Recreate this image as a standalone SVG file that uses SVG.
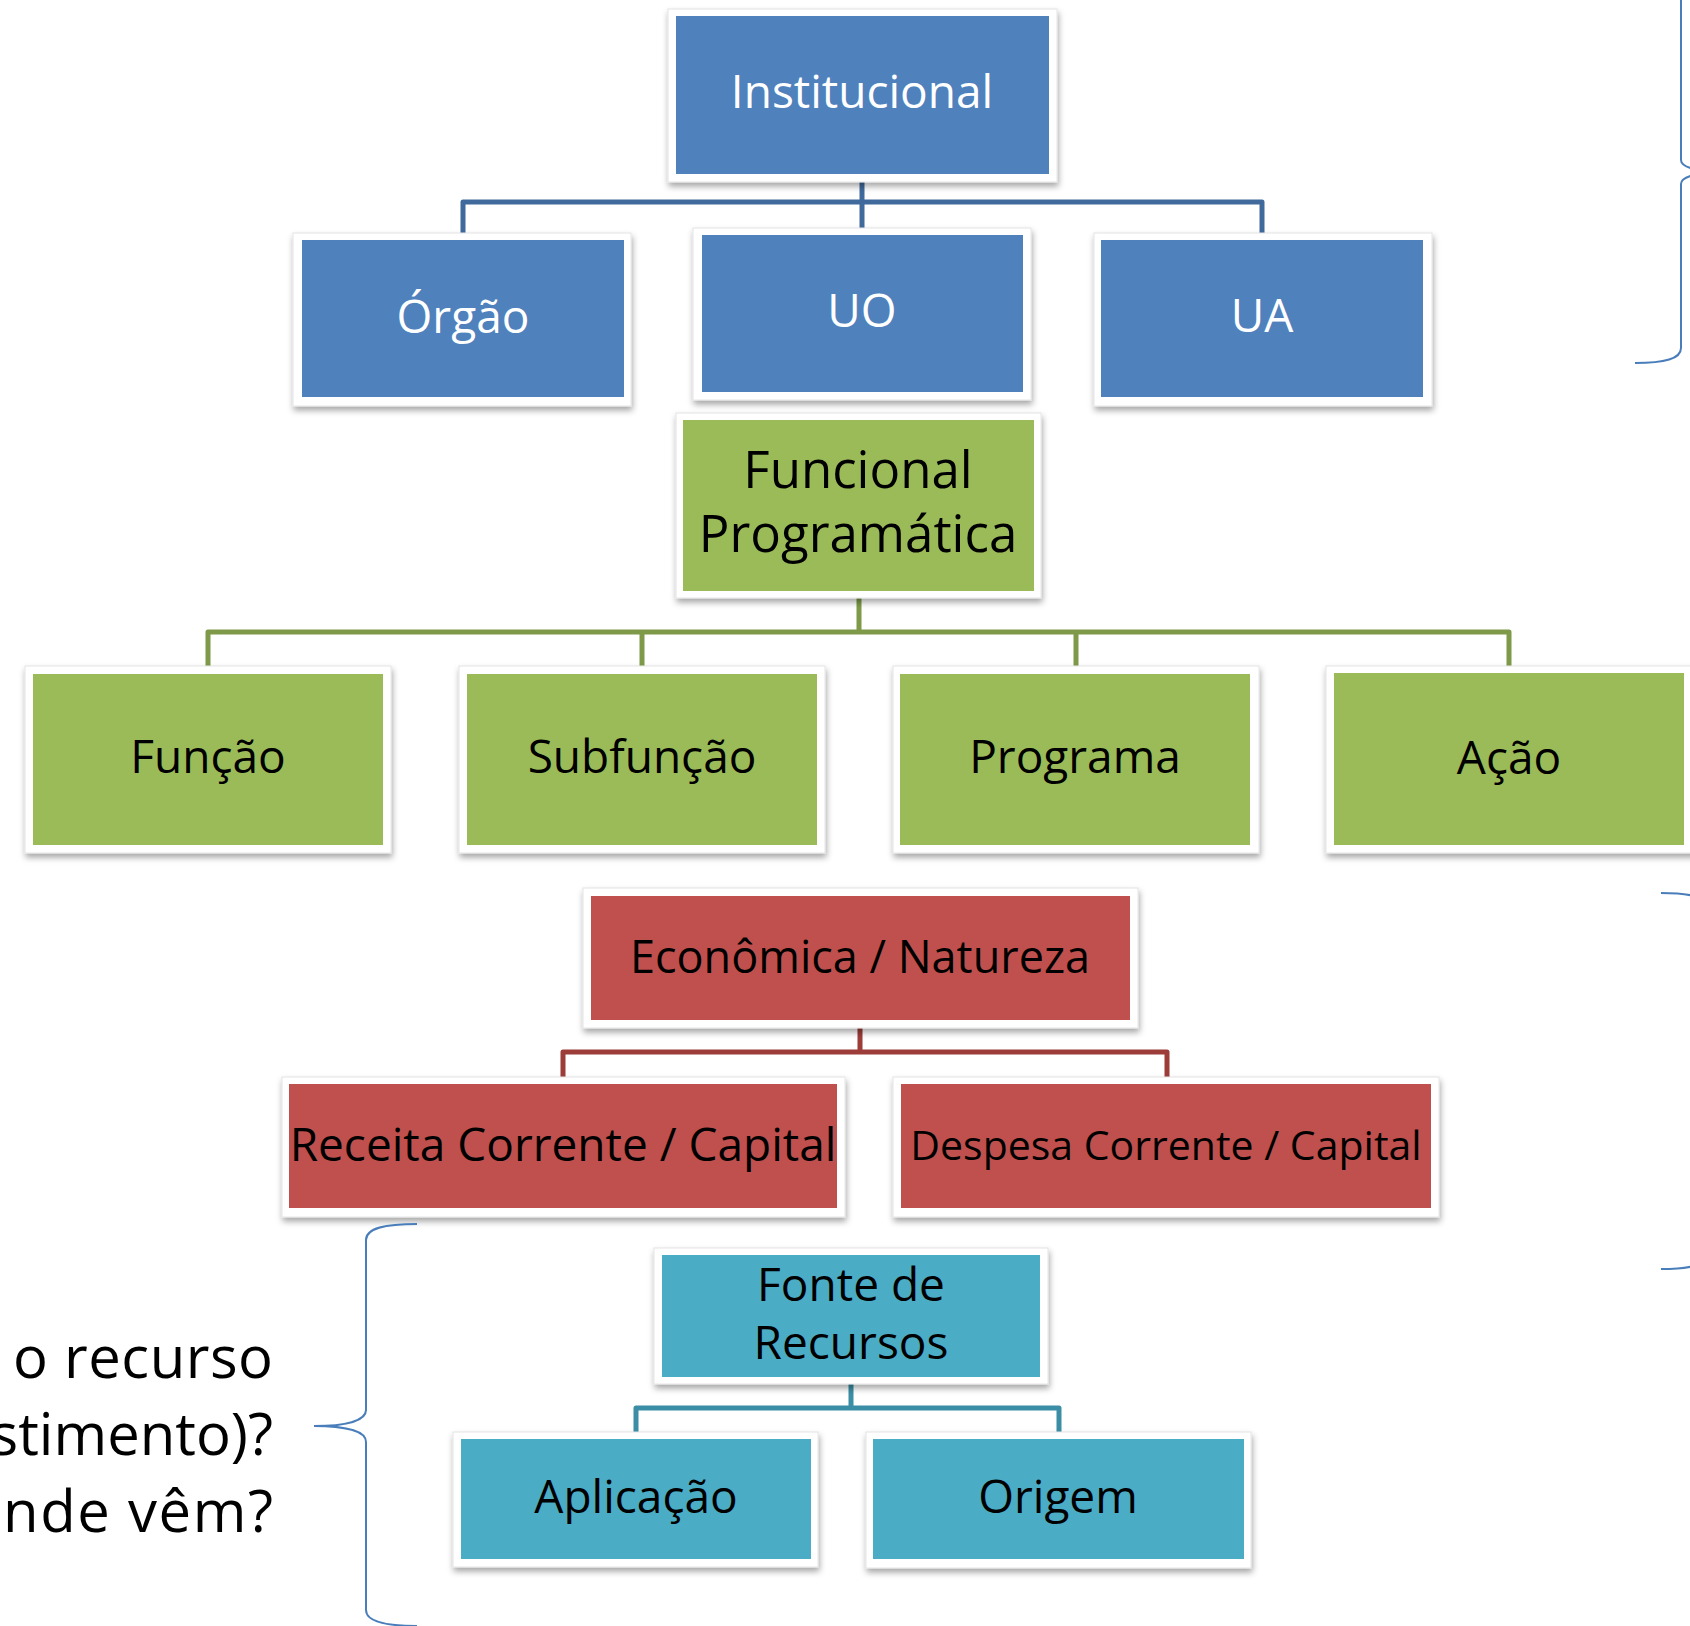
<svg xmlns="http://www.w3.org/2000/svg" width="1690" height="1626" viewBox="0 0 1690 1626">
<defs>
<filter id="sh" x="-10%" y="-10%" width="120%" height="130%">
<feDropShadow dx="1" dy="4" stdDeviation="3" flood-color="#000" flood-opacity="0.35"/>
</filter>
</defs>
<style>
text{font-family:"Open Sans","Noto Sans","Liberation Sans",sans-serif;text-anchor:middle;}
.frame{fill:#fff;stroke:#e4e4e4;stroke-width:1;filter:url(#sh);}
.blue{fill:#4f81bd;}
.green{fill:#9bbb59;}
.red{fill:#c0504d;}
.teal{fill:#4bacc6;}
.tw{fill:#fff;font-size:46px;}
.tb{fill:#000;font-size:46px;}
.conn{fill:none;stroke-width:5;stroke-linejoin:round;}
.brace{fill:none;stroke:#4a7ebb;stroke-width:2;}
</style>
<rect width="1690" height="1626" fill="#fff"/>
<g id="connectors">
<path class="conn" stroke="#40699c" d="M862,182 V202 M463,233 V202 H1262 V233 M862,202 V228"/>
<path class="conn" stroke="#7e9a48" d="M859,598 V632 M208,666 V632 H1509 V666 M642,632 V666 M1076,632 V666"/>
<path class="conn" stroke="#9c3d3a" d="M860,1028 V1052 M563,1077 V1052 H1167 V1077"/>
<path class="conn" stroke="#3b8ea5" d="M851,1384 V1408 M636,1432 V1408 H1059 V1432"/>
</g>
<g id="inst"><rect class="frame" x="668" y="9" width="389" height="173"/><rect class="blue" x="676" y="16" width="373" height="158"/><text class="tw" x="862" y="108">Institucional</text></g>
<g id="orgao"><rect class="frame" x="293" y="233" width="338" height="173"/><rect class="blue" x="302" y="240" width="322" height="157"/><text class="tw" x="463" y="333">Órgão</text></g>
<g id="uo"><rect class="frame" x="693" y="228" width="338" height="172"/><rect class="blue" x="702" y="235" width="321" height="157"/><text class="tw" x="862" y="327">UO</text></g>
<g id="ua"><rect class="frame" x="1094" y="233" width="338" height="173"/><rect class="blue" x="1101" y="240" width="322" height="157"/><text class="tw" x="1262" y="332">UA</text></g>
<g id="funcprog"><rect class="frame" x="676" y="413" width="365" height="185"/><rect class="green" x="683" y="420" width="351" height="171"/><text class="tb" style="font-size:51px" x="858" y="488">Funcional</text><text class="tb" style="font-size:51px" x="858" y="552">Programática</text></g>
<g id="funcao"><rect class="frame" x="25" y="666" width="366" height="187"/><rect class="green" x="33" y="674" width="350" height="171"/><text class="tb" x="208" y="773">Função</text></g>
<g id="subfuncao"><rect class="frame" x="459" y="666" width="366" height="187"/><rect class="green" x="467" y="674" width="350" height="171"/><text class="tb" x="642" y="773">Subfunção</text></g>
<g id="programa"><rect class="frame" x="893" y="666" width="366" height="187"/><rect class="green" x="900" y="674" width="350" height="171"/><text class="tb" x="1075" y="773">Programa</text></g>
<g id="acao"><rect class="frame" x="1326" y="666" width="372" height="187"/><rect class="green" x="1334" y="673" width="350" height="172"/><text class="tb" x="1509" y="774">Ação</text></g>
<g id="economica"><rect class="frame" x="583" y="888" width="555" height="140"/><rect class="red" x="591" y="896" width="539" height="124"/><text class="tb" style="font-size:45px" x="860" y="973">Econômica / Natureza</text></g>
<g id="receita"><rect class="frame" x="282" y="1077" width="563" height="140"/><rect class="red" x="289" y="1084" width="548" height="124"/><text class="tb" x="563" y="1161">Receita Corrente / Capital</text></g>
<g id="despesa"><rect class="frame" x="893" y="1077" width="546" height="140"/><rect class="red" x="901" y="1084" width="530" height="124"/><text class="tb" style="font-size:41px" x="1166" y="1160">Despesa Corrente / Capital</text></g>
<g id="fonte"><rect class="frame" x="654" y="1248" width="394" height="136"/><rect class="teal" x="662" y="1255" width="378" height="122"/><text class="tb" x="851" y="1301">Fonte de</text><text class="tb" x="851" y="1359">Recursos</text></g>
<g id="aplicacao"><rect class="frame" x="453" y="1432" width="365" height="135"/><rect class="teal" x="461" y="1439" width="350" height="120"/><text class="tb" x="636" y="1513">Aplicação</text></g>
<g id="origem"><rect class="frame" x="866" y="1432" width="385" height="136"/><rect class="teal" x="873" y="1439" width="371" height="120"/><text class="tb" x="1058" y="1513">Origem</text></g>
<g id="side-text" style="font-size:58px;fill:#000">
<text x="273" y="1378" style="text-anchor:end" textLength="260" lengthAdjust="spacing">o recurso</text>
<text x="273" y="1455" style="text-anchor:end">stimento)?</text>
<text x="273" y="1532" style="text-anchor:end" textLength="270" lengthAdjust="spacing">nde vêm?</text>
</g>
<g id="braces">
<path class="brace" d="M417,1224 C385,1224 366,1228 366,1240 L366,1410 C366,1421 345,1426 314,1426 C345,1426 366,1431 366,1442 L366,1610 C366,1621 385,1626 417,1626"/>
<path class="brace" d="M1635,-19 C1665,-19 1681,-15 1681,-4 L1681,160 C1681,168 1700,172 1727,172 C1700,172 1681,176 1681,184 L1681,348 C1681,359 1665,363 1635,363"/>
<path class="brace" d="M1661,893 C1691,893 1707,897 1707,908 L1707,1069 C1707,1077 1726,1081 1753,1081 C1726,1081 1707,1085 1707,1093 L1707,1254 C1707,1265 1691,1269 1661,1269"/>
</g>
</svg>
